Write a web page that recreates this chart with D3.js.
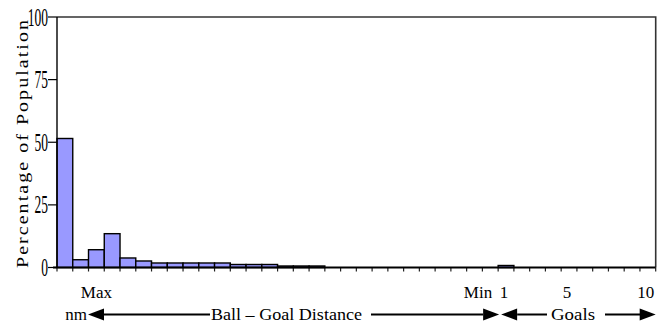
<!DOCTYPE html>
<html>
<head>
<meta charset="utf-8">
<script src="https://cdn.jsdelivr.net/npm/d3@7"></script>
<style>
  html, body { margin: 0; padding: 0; background: #fff; }
  svg { display: block; }
  svg text { font-family: "Liberation Serif", serif !important; }
</style>
</head>
<body>
<svg id="chart" width="665" height="328"></svg>
<script>
// Ball–goal distance bins (max → min), followed by goal counts 1..10
const distanceBins = d3.range(1, 29).map(i => "d" + i);
const goalBins = d3.range(1, 11).map(i => "g" + i);
const categories = distanceBins.concat(goalBins);

// Percentage of population in each bin
const distanceValues = [51.5, 3.1, 7.1, 13.5, 3.8, 2.6, 1.8, 1.8, 1.8, 1.8, 1.8, 1.2, 1.2, 1.2,
                        0.6, 0.6, 0.6, 0, 0, 0, 0, 0, 0, 0, 0, 0, 0, 0];
const goalValues = [0.8, 0, 0, 0, 0, 0, 0, 0, 0, 0];
const values = distanceValues.concat(goalValues);

const yTicks = [0, 25, 50, 75, 100];
const goalTickLabels = [{ cat: "g1", text: "1" }, { cat: "g5", text: "5" }, { cat: "g10", text: "10" }];

const svg = d3.select("#chart");
const plotLeft = 57, plotRight = 655.7, plotTop = 17, plotBottom = 267.5;

const x = d3.scaleBand().domain(categories).range([plotLeft, plotRight]).padding(0);
const y = d3.scaleLinear().domain([0, 100]).range([plotBottom, plotTop]);

function label(sel) {
  sel.attr("font-family", "Liberation Serif")
     .style("font-family", '"Liberation Serif"')
     .attr("fill", "#000");
}

// Plot frame (top and right edges)
svg.append("path")
  .attr("d", `M${plotLeft},${plotTop}H${plotRight}V${plotBottom}`)
  .attr("fill", "none").attr("stroke", "#333").attr("stroke-width", 1.6);

// Bars
svg.append("g").selectAll("rect")
  .data(categories.map((c, i) => ({ c, v: values[i] })).filter(d => d.v > 0))
  .join("rect")
  .attr("x", d => x(d.c))
  .attr("y", d => y(d.v))
  .attr("width", x.bandwidth())
  .attr("height", d => y(0) - y(d.v))
  .attr("fill", "#9999ff")
  .attr("stroke", "#000")
  .attr("stroke-width", 1.4);

// X tick marks at bin boundaries
const bounds = categories.map(c => x(c)).concat([plotRight]);
svg.append("g").selectAll("line")
  .data(bounds)
  .join("line")
  .attr("x1", d => d).attr("x2", d => d)
  .attr("y1", plotBottom).attr("y2", plotBottom + 4)
  .attr("stroke", "#222").attr("stroke-width", 1.2);

// Y axis with condensed tick labels
svg.append("line")
  .attr("x1", plotLeft).attr("x2", plotLeft).attr("y1", plotTop).attr("y2", plotBottom)
  .attr("stroke", "#000").attr("stroke-width", 1.4);
const yg = svg.append("g");
yg.selectAll("line").data(yTicks).join("line")
  .attr("x1", plotLeft - 9).attr("x2", plotLeft)
  .attr("y1", d => y(d)).attr("y2", d => y(d))
  .attr("stroke", "#000").attr("stroke-width", 1.2);
yg.selectAll("text").data(yTicks).join("text")
  .call(label)
  .attr("transform", d => `translate(${plotLeft - 9},${y(d)}) scale(0.54,1)`)
  .attr("text-anchor", "end")
  .attr("dy", "0.34em")
  .attr("font-size", 25)
  .text(d => d);

// X baseline
svg.append("line")
  .attr("x1", plotLeft - 4).attr("x2", plotRight).attr("y1", plotBottom).attr("y2", plotBottom)
  .attr("stroke", "#000").attr("stroke-width", 2);

// Y axis title: tall, letter-spaced lettering
svg.append("text")
  .call(label)
  .attr("transform", `translate(28,${(20 + 268) / 2}) scale(0.8,1) rotate(-90)`)
  .attr("text-anchor", "middle")
  .attr("font-size", 20)
  .attr("textLength", 248)
  .attr("lengthAdjust", "spacing")
  .text("Percentage of Population");

// Category labels under the axis
const row1 = 298, row2 = 320, arrowY = 314.5;
svg.append("text").call(label)
  .attr("x", x("d3") + x.bandwidth() / 2).attr("y", row1)
  .attr("text-anchor", "middle").attr("font-size", 17).text("Max");
svg.append("text").call(label)
  .attr("x", x("g1") - 6).attr("y", row1)
  .attr("text-anchor", "end").attr("font-size", 17).text("Min");
svg.append("g").selectAll("text").data(goalTickLabels).join("text").call(label)
  .attr("x", d => x(d.cat) + x.bandwidth() / 2 - 2).attr("y", row1)
  .attr("text-anchor", "middle").attr("font-size", 17).text(d => d.text);

// Arrow annotation row
function arrowHead(tipX, dir) {
  // dir = -1 points left, +1 points right
  const w = 16, h = 6;
  svg.append("path")
    .attr("d", `M${tipX},${arrowY}L${tipX - dir * w},${arrowY - h}L${tipX - dir * w},${arrowY + h}Z`)
    .attr("fill", "#000");
}
function hline(x1, x2) {
  svg.append("line").attr("x1", x1).attr("x2", x2).attr("y1", arrowY).attr("y2", arrowY)
    .attr("stroke", "#000").attr("stroke-width", 2);
}
const distStart = x("d1"), distEnd = x("g1");
svg.append("text").call(label).attr("x", distStart + 30).attr("y", row2)
  .attr("text-anchor", "end").attr("font-size", 17).text("nm");
arrowHead(distStart + 31, -1);
hline(distStart + 47, 210);
svg.append("text").call(label).attr("x", 211).attr("y", row2)
  .attr("font-size", 17).attr("textLength", 151).attr("lengthAdjust", "spacingAndGlyphs")
  .text("Ball – Goal Distance");
hline(371, distEnd - 15);
arrowHead(distEnd + 1, 1);
arrowHead(distEnd + 3, -1);
hline(distEnd + 19, 547);
svg.append("text").call(label).attr("x", 551).attr("y", row2)
  .attr("font-size", 17).attr("textLength", 44).attr("lengthAdjust", "spacingAndGlyphs")
  .text("Goals");
hline(605, plotRight - 15);
arrowHead(plotRight, 1);
</script>
</body>
</html>
